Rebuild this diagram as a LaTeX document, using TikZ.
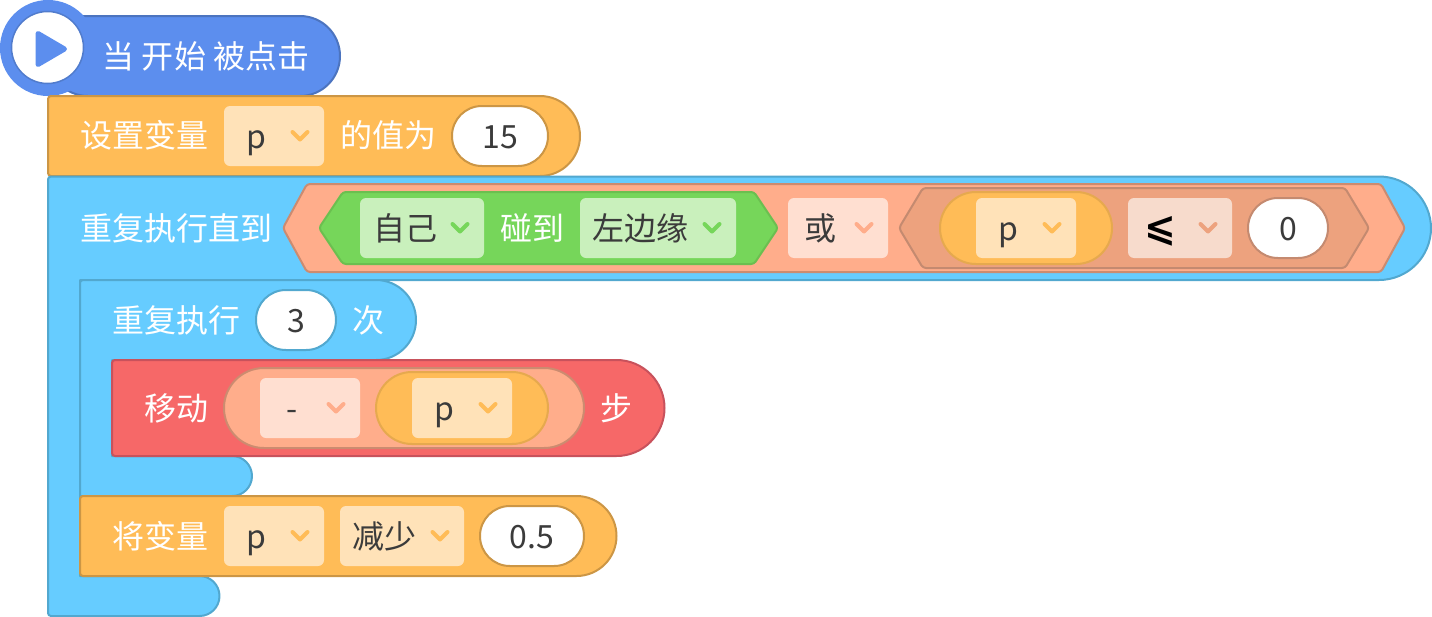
\documentclass[tikz,border=0pt]{standalone}
\usepackage{fontspec}
\setmainfont{Noto Sans CJK SC}
\newfontfamily\symfont{DejaVu Sans}[BoldFont={DejaVu Sans Bold}]
\definecolor{hatF}{HTML}{5C8EEE}\definecolor{hatS}{HTML}{4C74BF}
\definecolor{orF}{HTML}{FFBC57}\definecolor{orS}{HTML}{CC9645}\definecolor{orD}{HTML}{FFE2B8}
\definecolor{blF}{HTML}{66CCFF}\definecolor{blS}{HTML}{52A8CF}
\definecolor{grF}{HTML}{76D65A}\definecolor{grS}{HTML}{6BBF50}\definecolor{grD}{HTML}{C9F0BC}
\definecolor{saF}{HTML}{FFAD8B}\definecolor{saS}{HTML}{CC8B70}\definecolor{saD}{HTML}{FFDFD1}
\definecolor{dkF}{HTML}{EDA27E}\definecolor{dkS}{HTML}{C48A70}\definecolor{dkD}{HTML}{F7DBCC}
\definecolor{rdF}{HTML}{F66868}\definecolor{rdS}{HTML}{C8525C}
\definecolor{txt}{HTML}{3B3B3B}
\tikzset{
  x=1pt,y=-1pt,
  wtext/.style={text=white,font=\fontsize{32}{32}\selectfont,inner sep=0pt,anchor=base},
  dtext/.style={text=txt,font=\fontsize{32}{32}\selectfont,inner sep=0pt,anchor=base},
  blockline/.style={line width=2pt,line join=round},
  chev/.style={line width=4pt,line cap=round,line join=round},
}
% dropdown: name, x0, x1, y0, text centre, text, fill, chevron colour
\newcommand{\ddbox}[8]{%
  \fill[#7,rounded corners=6pt] (#2,#4) rectangle (#3,#4+60);
  \node[dtext] (#1) at (#5,#4+42) {#6};
  \draw[chev,#8] (#3-31.5,#4+26) -- (#3-24,#4+33.5) -- (#3-16.5,#4+26);
}
% round value input: name, x0, x1, y0, text, stroke
\newcommand{\valbox}[6]{%
  \draw[fill=white,draw=#6,line width=2pt,rounded corners=29.9pt] (#2,#4) rectangle (#3,#4+60);
  \node[dtext] (#1) at ({(#2+#3)/2},#4+42) {#5};
}
% hexagon: x tip left, inset, x tip right, y top, y bottom, fill, stroke
\newcommand{\hexa}[7]{%
  \draw[fill=#6,draw=#7,blockline,rounded corners=3pt]
    (#1,{(#4+#5)/2}) -- (#1+#2,#4) -- (#3-#2,#4) -- (#3,{(#4+#5)/2}) -- (#3-#2,#5) -- (#1+#2,#5) -- cycle;
}
% pill: x0,x1,y0,y1,radius,fill,stroke
\newcommand{\pill}[7]{%
  \draw[fill=#6,draw=#7,blockline,rounded corners=#5pt] (#1,#3) rectangle (#2,#4);
}
% statement block with small left corners and round right end
\newcommand{\stmt}[7]{%
  \draw[fill=#6,draw=#7,blockline,rounded corners=3pt]
    (#1,#4) -- (#1,#3) [rounded corners=#5pt] -- (#2,#3) -- (#2,#4) [rounded corners=3pt] -- cycle;
}
\begin{document}
\begin{tikzpicture}
\useasboundingbox (0,0) rectangle (1432,616);
% hat block
\draw[fill=hatF,draw=hatS,blockline,rounded corners=40pt] (48,16) -- (340,16) -- (340,96) -- (48,96) [rounded corners=0pt] -- cycle;
\fill[hatF] (48,48) circle[radius=48];
\draw[fill=white,draw=hatS!70!hatF,line width=1.5pt] (47.5,47.5) circle[radius=36];
\fill[hatF,draw=hatF,line width=5pt,line join=round] (38,33.5) -- (64.5,49) -- (38,64.5) -- cycle;
\node[wtext] (hatlabel) at (206,68) {当 开始 被点击};
% set variable
\stmt{48}{580}{96}{176}{40}{orF}{orS}
\node[wtext] (setlabel) at (144.5,147) {设置变量};
\ddbox{setvar}{224}{324}{106}{256}{p}{orD}{orF}
\node[wtext] (setvalue) at (388,147) {的值为};
\valbox{setnum}{452}{548}{106}{15}{orS}
% outer repeat until
\draw[fill=blF,draw=blS,blockline]
  [rounded corners=3pt] (48,616) -- (48,176.5) [rounded corners=52pt] -- (1431,176.5) -- (1431,280) [rounded corners=0pt] -- (80,280) -- (80,576)
  [rounded corners=20pt] -- (219.5,576) -- (219.5,616) [rounded corners=3pt] -- cycle;
\node[wtext] (untillabel) at (176,240) {重复执行直到};
\hexa{283}{24}{1405}{184}{272}{saF}{saS}
\hexa{319}{24}{778}{192}{264}{grF}{grS}
\ddbox{self}{360}{484}{198}{405}{自己}{grD}{grF}
\node[wtext] (touch) at (532,240) {碰到};
\ddbox{edge}{580}{736}{198}{640}{左边缘}{grD}{grF}
\ddbox{orop}{788}{888}{198}{820}{或}{saD}{saF}
\hexa{899}{24}{1369}{188}{268}{dkF}{dkS}
\pill{940}{1112}{192}{264}{35.9}{orF}{orS!50!orF}
\ddbox{cmpvar}{976}{1076}{198}{1008}{p}{orD}{orF}
\ddbox{cmpop}{1128}{1232}{198}{1160}{\textcolor{black}{\fontsize{38}{38}\selectfont\symfont\bfseries ⩽}}{dkD}{dkF}
\valbox{cmpnum}{1248}{1328}{198}{0}{dkS}
% inner repeat
\draw[fill=blF,draw=blS,blockline]
  [rounded corners=3pt] (80,496) -- (80,280) [rounded corners=40pt] -- (416,280) -- (416,360) [rounded corners=0pt] -- (112,360) -- (112,456)
  [rounded corners=20pt] -- (252,456) -- (252,496) [rounded corners=0pt] -- cycle;
\node[wtext] (replabel) at (176.5,332) {重复执行};
\valbox{repnum}{256}{336}{290}{3}{blS}
\node[wtext] (times) at (368.5,332) {次};
% move block
\stmt{112}{664.5}{360}{456}{48}{rdF}{rdS}
\node[wtext] (movelabel) at (176.5,420) {移动};
\pill{224}{584}{368}{448}{39.9}{saF}{saS}
\ddbox{neg}{260}{360}{378}{292}{-}{saD}{saF}
\pill{376}{548}{372}{444}{35.9}{orF}{orS!50!orF}
\ddbox{movevar}{412}{512}{378}{444}{p}{orD}{orF}
\node[wtext] (steps) at (616.5,420) {步};
% change variable
\stmt{80}{616.5}{496}{576}{40}{orF}{orS}
\node[wtext] (chglabel) at (160.5,548) {将变量};
\ddbox{chgvar}{224}{324}{506}{256}{p}{orD}{orF}
\ddbox{chgop}{340}{464}{506}{384}{减少}{orD}{orF}
\valbox{chgnum}{480}{584}{506}{0.5}{orS}
\end{tikzpicture}
\end{document}
